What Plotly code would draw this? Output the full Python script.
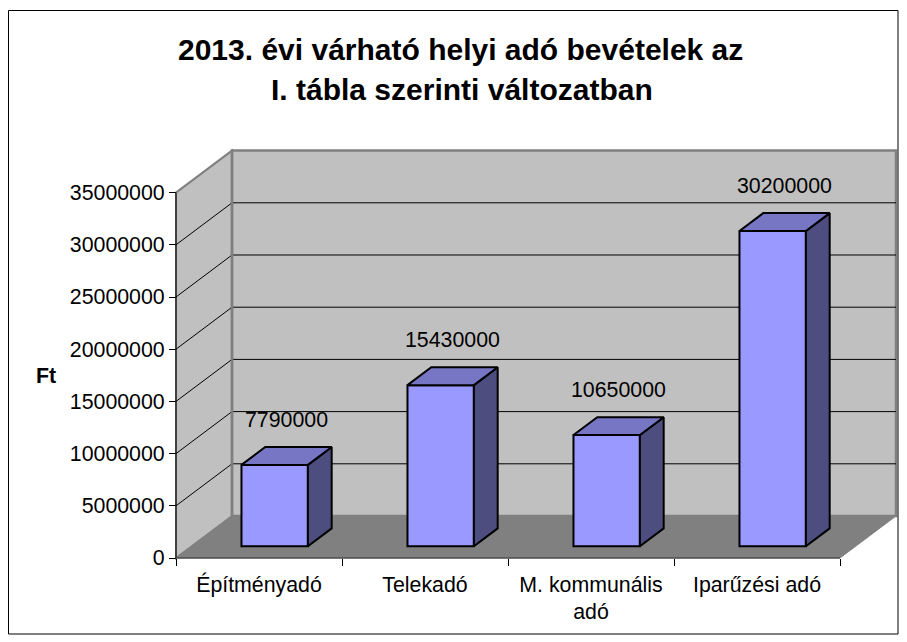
import plotly.graph_objects as go

# ---------------- data ----------------
categories = ["Építményadó", "Telekadó", "M. kommunális<br>adó", "Iparűzési adó"]
values = [7790000, 15430000, 10650000, 30200000]
value_labels = ["7790000", "15430000", "10650000", "30200000"]
y_tick_values = [0, 5000000, 10000000, 15000000, 20000000, 25000000, 30000000, 35000000]
y_tick_labels = ["0", "5000000", "10000000", "15000000", "20000000", "25000000", "30000000", "35000000"]
title_lines = ["2013. évi várható helyi adó bevételek az", "I. tábla szerinti változatban"]
y_axis_title = "Ft"

# ---------------- geometry / style ----------------
OFF = 8                          # page body margin of the html page
W, H = 907 - OFF, 642 - OFF
ORIGIN_PX = (176 - OFF, 558 - OFF)   # pixel of (x=0, y=0) on the front plane
PAD = 6
L = ORIGIN_PX[0] - PAD
R = 7
T = 140 - OFF
B = H - (ORIGIN_PX[1] + PAD)
PW = W - L - R
PH = H - T - B
SLOT_PX = 166.0                 # pixels per category
PXU = 52.2 / 5e6                # pixels per value unit
X0 = -PAD / SLOT_PX
X1 = X0 + PW / SLOT_PX
Y0 = -PAD / PXU
Y1 = Y0 + PH / PXU
DX = 56 / SLOT_PX               # oblique depth in x units
DY = 42 / PXU                   # oblique depth in y units
F0, F1 = 0.28, 0.705            # bar depth position (fraction of floor depth)
BAR_W = 0.40
AX_MAX = y_tick_values[-1]
n = len(categories)

FONT = "Arial, 'Liberation Sans', sans-serif"
FS = 21.33
TITLE_FS = 30
WALL = "#C0C0C0"
FLOOR = "#808080"
EDGE = "#808080"
FRONT = "#9999FF"
TOP = "#7676C4"
SIDE = "#4D4D80"


def paper_x(px_ref):
    return (px_ref - OFF - L) / PW


def paper_y(py_ref):
    return (H - B - (py_ref - OFF)) / PH


fig = go.Figure()

# front faces of bars
bar_x = [i + 0.5 + F0 * DX for i in range(n)]
fig.add_trace(go.Bar(
    x=bar_x, y=values, base=[F0 * DY] * n, width=BAR_W,
    marker=dict(color=FRONT, line=dict(color="black", width=2)),
    hoverinfo="skip", showlegend=False,
))

# top and side faces
ddx = (F1 - F0) * DX
ddy = (F1 - F0) * DY
for cx, v in zip(bar_x, values):
    xl, xr = cx - BAR_W / 2, cx + BAR_W / 2
    b0 = F0 * DY
    fig.add_trace(go.Scatter(
        x=[xr, xr + ddx, xr + ddx, xr, xr],
        y=[b0, b0 + ddy, b0 + v + ddy, b0 + v, b0],
        mode="lines", fill="toself", fillcolor=SIDE,
        line=dict(color="black", width=2), hoverinfo="skip", showlegend=False,
    ))
    fig.add_trace(go.Scatter(
        x=[xl, xr, xr + ddx, xl + ddx, xl],
        y=[b0 + v, b0 + v, b0 + v + ddy, b0 + v + ddy, b0 + v],
        mode="lines", fill="toself", fillcolor=TOP,
        line=dict(color="black", width=2), hoverinfo="skip", showlegend=False,
    ))

shapes = []
# floor
shapes.append(dict(type="path", xref="x", yref="y", layer="below",
                   path=f"M 0 0 L {n} 0 L {n + DX} {DY} L {DX} {DY} Z",
                   fillcolor=FLOOR, line=dict(color=FLOOR, width=1)))
# left wall
shapes.append(dict(type="path", xref="x", yref="y", layer="below",
                   path=f"M 0 0 L {DX} {DY} L {DX} {AX_MAX + DY} L 0 {AX_MAX} Z",
                   fillcolor=WALL, line=dict(color=EDGE, width=2)))
# back wall
shapes.append(dict(type="rect", xref="x", yref="y", layer="below",
                   x0=DX, x1=n + DX, y0=DY, y1=AX_MAX + DY,
                   fillcolor=WALL, line=dict(color=EDGE, width=2.5)))
# gridlines
for v in y_tick_values[1:-1]:
    shapes.append(dict(type="path", xref="x", yref="y", layer="below",
                       path=f"M 0 {v} L {DX} {v + DY} L {n + DX} {v + DY}",
                       line=dict(color="black", width=1)))
# re-draw wall corner edge over gridlines
shapes.append(dict(type="line", xref="x", yref="y", layer="below",
                   x0=DX, x1=DX, y0=DY, y1=AX_MAX + DY,
                   line=dict(color=EDGE, width=2.5)))
# y axis line and front floor edge
shapes.append(dict(type="line", xref="x", yref="y", layer="below",
                   x0=0, x1=0, y0=0, y1=AX_MAX, line=dict(color="black", width=1)))
shapes.append(dict(type="line", xref="x", yref="y", layer="below",
                   x0=0, x1=n, y0=0, y1=0, line=dict(color="#303030", width=1)))
# chart border
shapes.append(dict(type="rect", xref="paper", yref="paper",
                   x0=paper_x(8.5), x1=paper_x(898), y0=paper_y(634), y1=paper_y(10.5),
                   line=dict(color="black", width=1), fillcolor="rgba(0,0,0,0)"))

annotations = []
for i, (v, t) in enumerate(zip(values, value_labels)):
    annotations.append(dict(
        x=i + 0.5 + (F0 + F1) / 2 * DX, y=v + F1 * DY, xref="x", yref="y",
        text=t, showarrow=False, yanchor="middle", yshift=27,
        font=dict(family=FONT, size=FS, color="black"),
    ))
annotations.append(dict(x=paper_x(460), y=paper_y(49), xref="paper", yref="paper",
                        text=f"<b>{title_lines[0]}</b>", showarrow=False,
                        xanchor="center", yanchor="middle",
                        font=dict(family=FONT, size=TITLE_FS, color="black")))
annotations.append(dict(x=paper_x(462), y=paper_y(89), xref="paper", yref="paper",
                        text=f"<b>{title_lines[1]}</b>", showarrow=False,
                        xanchor="center", yanchor="middle",
                        font=dict(family=FONT, size=TITLE_FS, color="black")))
annotations.append(dict(x=paper_x(45.5), y=paper_y(376), xref="paper", yref="paper",
                        text=f"<b>{y_axis_title}</b>", showarrow=False,
                        xanchor="center", yanchor="middle",
                        font=dict(family=FONT, size=FS, color="black")))

fig.update_layout(
    width=W, height=H,
    margin=dict(l=L, r=R, t=T, b=B, autoexpand=False),
    paper_bgcolor="white", plot_bgcolor="white",
    showlegend=False,
    shapes=shapes, annotations=annotations,
    font=dict(family=FONT, size=FS, color="black"),
    xaxis=dict(
        range=[X0, X1], anchor="free", position=PAD / PH,
        tickmode="array", tickvals=[i + 0.5 for i in range(n)], ticktext=categories,
        ticks="outside", ticklen=7, tickcolor="rgba(0,0,0,0)",
        minor=dict(tickmode="array", tickvals=list(range(n + 1)), ticks="outside",
                   ticklen=7, tickcolor="black", tickwidth=1, showgrid=False),
        showgrid=False, zeroline=False, showline=False, fixedrange=True,
        tickfont=dict(family=FONT, size=FS, color="black"), automargin=False,
    ),
    yaxis=dict(
        range=[Y0, Y1], anchor="free", position=PAD / PW,
        tickmode="array", tickvals=y_tick_values, ticktext=y_tick_labels,
        ticks="outside", ticklen=7, tickcolor="black", tickwidth=1,
        showgrid=False, zeroline=False, showline=False, fixedrange=True,
        tickfont=dict(family=FONT, size=FS, color="black"), automargin=False,
    ),
)

fig.write_html("out.html")
